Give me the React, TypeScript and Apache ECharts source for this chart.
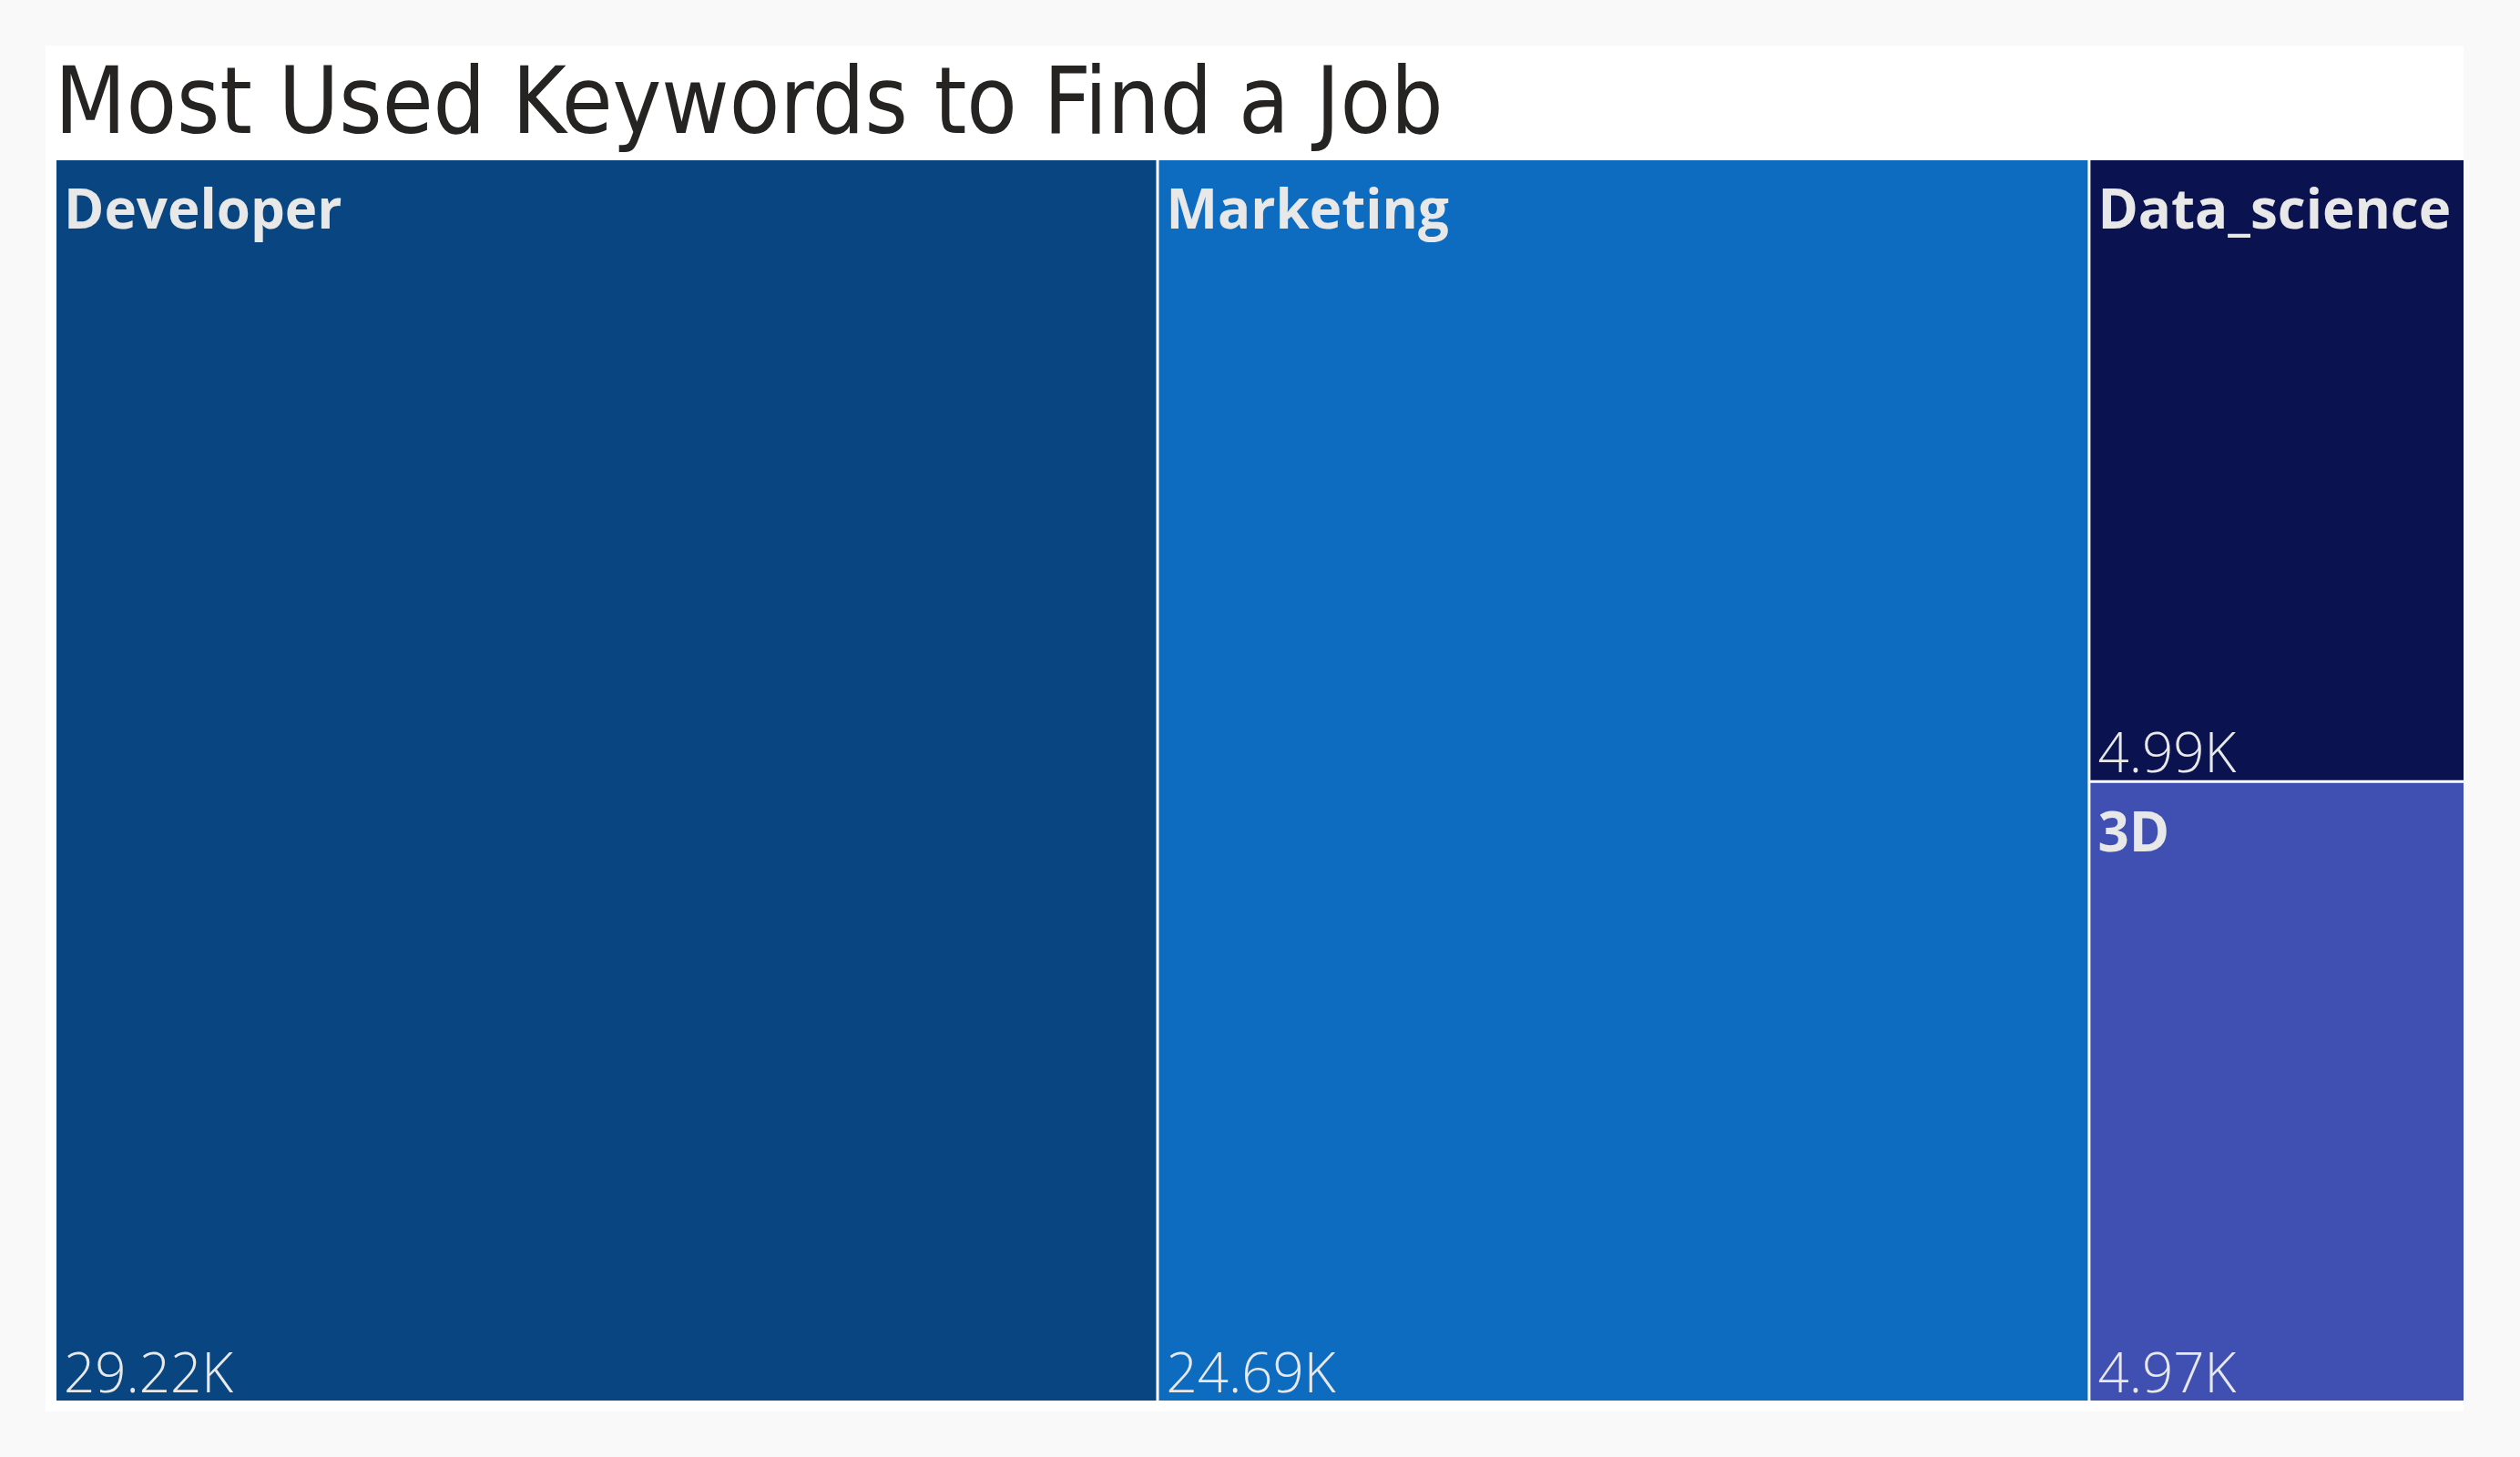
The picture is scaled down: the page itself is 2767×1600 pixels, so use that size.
import React, { useEffect, useRef } from "react";
import * as echarts from "echarts";

const categories = ["Developer", "Marketing", "Data_science", "3D"];
const values = [29220, 24690, 4990, 4970];
const colors = ["#094681", "#0D6BC0", "#0A124F", "#4050B2"];
const titleText = "Most Used Keywords to Find a Job";

const fmtK = (v: number) => (v / 1000).toFixed(2) + "K";

export default function App() {
  const ref = useRef<HTMLDivElement>(null);
  useEffect(() => {
    if (!ref.current) return;
    const chart = echarts.init(ref.current, null, { renderer: "svg" });
    const area = { left: 62, top: 176, width: 2643, height: 1362 };
    const dataA = categories.map((c, i) => ({
      name: c,
      value: values[i],
      itemStyle: { color: colors[i] },
    }));
    const dataB = categories.map((c, i) => ({
      name: c,
      value: values[i],
      itemStyle: { color: "transparent" },
    }));
    const common = {
      type: "treemap",
      ...area,
      roam: false,
      nodeClick: false,
      breadcrumb: { show: false },
      squareRatio: 1,
      silent: true,
    };
    chart.setOption({
      animation: false,
      backgroundColor: "#f9f9f9",
      title: {
        text: titleText,
        left: 55,
        top: 55,
        textStyle: {
          fontFamily: "DejaVu Sans Condensed",
          fontWeight: "normal",
          fontSize: 101,
          color: "#252423",
        },
      },
      graphic: [
        {
          type: "rect",
          z: -10,
          shape: { x: 50, y: 50, width: 2655, height: 1500 },
          style: { fill: "#ffffff" },
        },
      ],
      series: [
        {
          ...common,
          levels: [
            {
              itemStyle: { gapWidth: 3, borderWidth: 0, borderColor: "#ffffff" },
            },
          ],
          label: {
            show: true,
            position: "insideTopLeft",
            distance: 0,
            padding: [22, 0, 0, 8],
            formatter: "{b}",
            fontFamily: "Open Sans",
            fontWeight: "bold",
            fontSize: 60,
            color: "#e8e8e8",
          },
          data: dataA,
        },
        {
          ...common,
          levels: [
            {
              itemStyle: { gapWidth: 3, borderWidth: 0, color: "transparent" },
            },
          ],
          itemStyle: { color: "transparent", borderWidth: 0 },
          label: {
            show: true,
            position: "insideBottomLeft",
            distance: 0,
            padding: [0, 0, 2, 8],
            formatter: (p: any) => fmtK(p.value),
            fontFamily: "Open Sans",
            fontWeight: 300,
            fontSize: 60,
            color: "#e8e8e8",
          },
          data: dataB,
        },
      ],
    });
    return () => chart.dispose();
  }, []);
  return (
    <div
      ref={ref}
      style={{ position: "fixed", left: 0, top: 0, width: 2767, height: 1600 }}
    />
  );
}
